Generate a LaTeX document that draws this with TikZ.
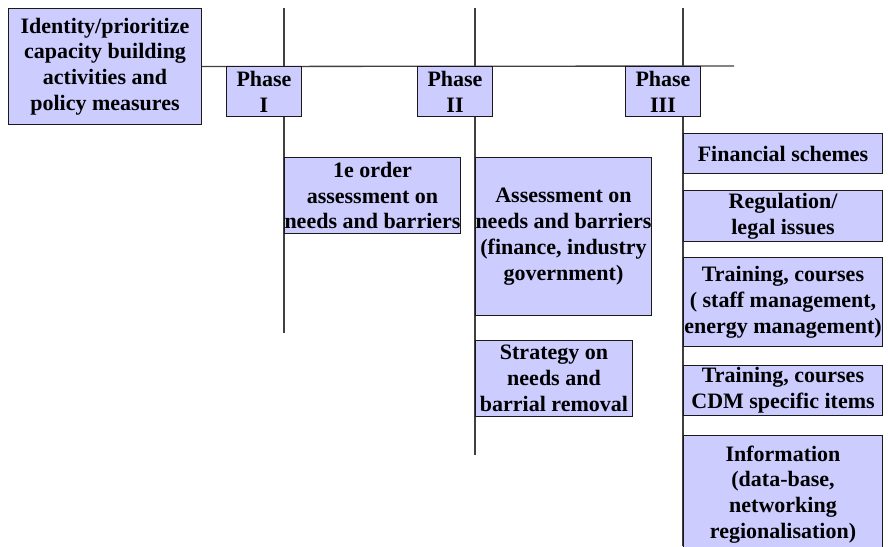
\documentclass[tikz,border=0pt]{standalone}
\usepackage{fontspec}
\setmainfont{Liberation Serif}[BoldFont={Liberation Serif Bold}]
\newfontfamily\boxfont{Liberation Serif Bold}
\tikzset{>=latex}
\colorlet{boxblue}{blue!20!white}
\colorlet{linegray}{black!75}
\tikzstyle{box}=[draw=black!90,fill=boxblue,line width=1pt,align=center,inner sep=0pt,anchor=north west,font=\boxfont\fontsize{22}{25.8}\selectfont]
\tikzstyle{axis}=[linegray,line width=1.3pt]

\begin{document}
\begin{tikzpicture}[x=1pt,y=-1pt]
  \useasboundingbox (0,0) rectangle (888,546);
  \def\xa{284}
  \def\xb{475}
  \def\xc{683}
  \def\yh{66}
  \coordinate (top1) at (\xa,8);
  \coordinate (bot1) at (\xa,333);
  \coordinate (top2) at (\xb,8);
  \coordinate (bot2) at (\xb,455);
  \coordinate (top3) at (\xc,8);
  \coordinate (bot3) at (\xc,546);
  \coordinate (hend) at (734,\yh);
  \node[box,minimum width=193,minimum height=116] (goal) at (8,8) {Identity/prioritize\\capacity building\\activities and\\policy measures};
  % phase lines
  \draw[axis] (goal.east) -- (hend);
  \draw[axis] (top1) -- (bot1);
  \draw[axis] (top2) -- (bot2);
  \draw[axis] (top3) -- (bot3);
  \node[box,minimum width=75,minimum height=50] (ph1) at (\xa-58,\yh) {Phase\\I};
  \node[box,minimum width=75,minimum height=50] (ph2) at (\xb-58,\yh) {Phase\\II};
  \node[box,minimum width=75,minimum height=50] (ph3) at (\xc-58,\yh) {Phase\\III};
  % phase I
  \node[box,minimum width=175,minimum height=76] (order) at (\xa,157) {1e order\\assessment on\\needs and barriers};
  % phase II
  \node[box,minimum width=172,minimum height=158] (assess) at (\xb,157) {Assessment on\\needs and barriers\\(finance, industry\\government)};
  \node[box,minimum width=157,minimum height=76] (strat) at (\xb,340) {Strategy on\\needs and\\barrial removal};
  % phase III
  \node[box,minimum width=199,minimum height=40] (fin) at (\xc,133) {Financial schemes};
  \node[box,minimum width=199,minimum height=51] (reg) at (\xc,190) {Regulation/\\legal issues};
  \node[box,minimum width=199,minimum height=89] (train) at (\xc,257) {Training, courses\\( staff management,\\energy management)};
  \node[box,minimum width=199,minimum height=50] (cdm) at (\xc,365) {Training, courses\\CDM specific items};
  \node[box,minimum width=199,minimum height=118] (info) at (\xc,435) {Information\\(data-base,\\networking\\regionalisation)};
\end{tikzpicture}
\end{document}
